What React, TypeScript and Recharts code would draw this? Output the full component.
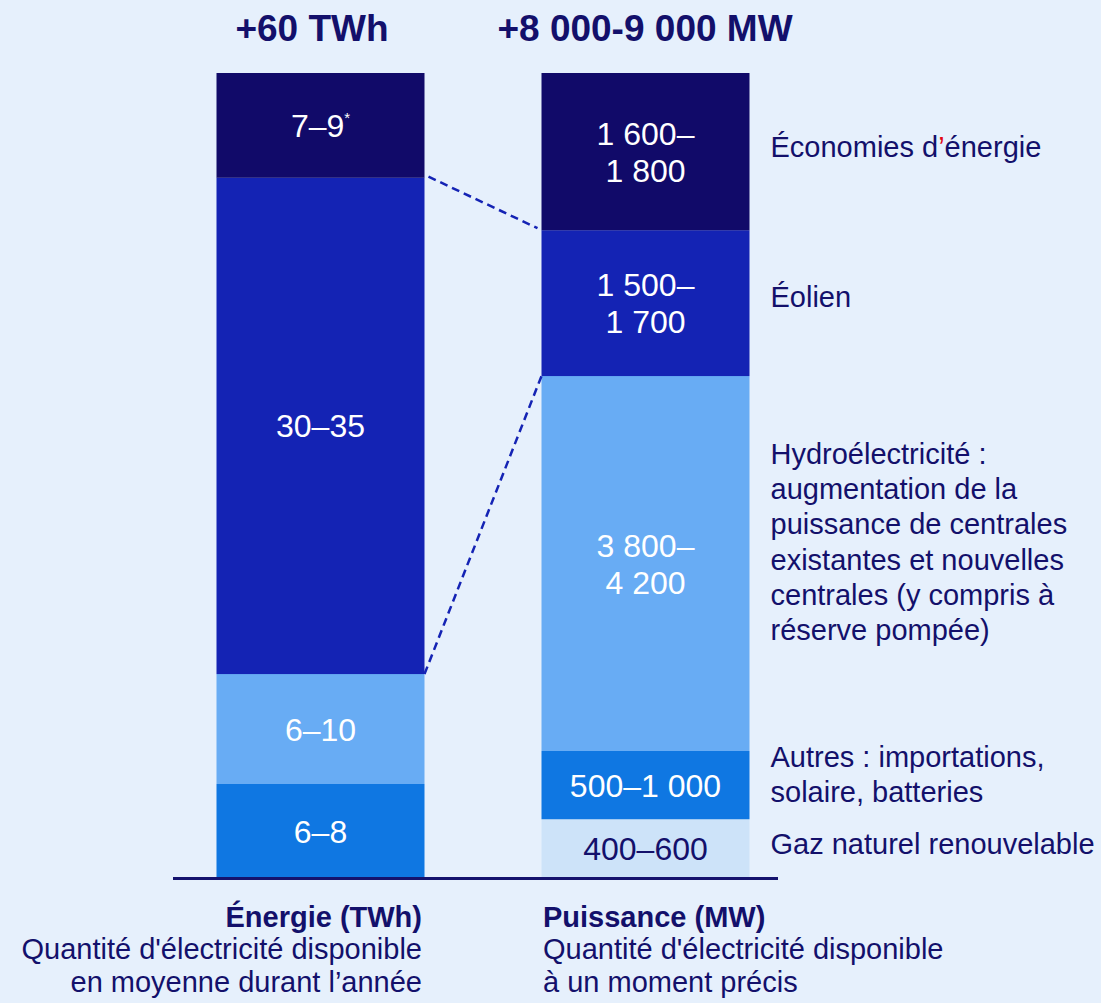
import React from "react";
import { BarChart, Bar, XAxis, YAxis, LabelList } from "recharts";

// values (segment heights), ranges as printed
const categories = ["Énergie (TWh)", "Puissance (MW)"];
const headers = ["+60 TWh", "+8 000-9 000 MW"];
const totals = [60, 8500];
const seriesKeys = ["gaz", "autres", "hydro", "eolien", "economies"];
const energieValues = [0, 7.0, 8.2, 37.0, 7.8];
const puissanceValues = [620, 720, 3960, 1540, 1660];
const energieLabels = ["", "6–8", "6–10", "30–35", "7–9*"];
const puissanceLabels = ["400–600", "500–1 000", "3 800–\n4 200", "1 500–\n1 700", "1 600–\n1 800"];
const seriesNames = [
  "Gaz naturel renouvelable",
  "Autres : importations,\nsolaire, batteries",
  "Hydroélectricité :\naugmentation de la\npuissance de centrales\nexistantes et nouvelles\ncentrales (y compris à\nréserve pompée)",
  "Éolien",
  "Économies d’énergie",
];
const bottomLines = [
  ["Quantité d'électricité disponible", "en moyenne durant l’année"],
  ["Quantité d'électricité disponible", "à un moment précis"],
];

const COLORS = ["#cde3f9", "#0f77e2", "#68acf4", "#1423b4", "#110a69"];
const NAVY = "#13106b";
const BG = "#e6f0fc";
const FONT = "'Liberation Sans', Arial, sans-serif";
const BAR_W = 208;
const NAME_DY = [5.5, -0.8, -11.7, 4, 5.5];
const HEADER_DX = [-8, 0];

const rows = [energieValues, puissanceValues].map((vals, i) => {
  const row: Record<string, any> = { name: categories[i] };
  const labels = i === 0 ? energieLabels : puissanceLabels;
  seriesKeys.forEach((k, j) => {
    row[k] = (vals[j] / totals[i]) * 100;
    row[k + "_label"] = labels[j];
    if (i === 1) row[k + "_name"] = seriesNames[j];
  });
  return row;
});

let leftRoyal: { x: number; y: number; width: number; height: number } | null = null;

function RoyalShape(props: any) {
  const { x, y, width, height, fill, payload } = props;
  const isLeft = payload?.name === categories[0];
  if (isLeft) leftRoyal = { x, y, width, height };
  const l = leftRoyal;
  return (
    <g>
      <rect x={x} y={y} width={width} height={height} fill={fill} />
      {!isLeft && l && (
        <g stroke={COLORS[3]} strokeWidth={2.5} strokeDasharray="8 5">
          <line x1={l.x + l.width + 4} y1={l.y - 1} x2={x - 4} y2={y - 2} />
          <line x1={l.x + l.width} y1={l.y + l.height} x2={x} y2={y + height} />
        </g>
      )}
    </g>
  );
}

function InnerLabel(props: any) {
  const vb = props.viewBox ?? props;
  const value = props.value;
  if (!value) return null;
  const lines = String(value).split("\n");
  const cx = vb.x + vb.width / 2;
  const cy = vb.y + vb.height / 2;
  const first = cy - ((lines.length - 1) * 37) / 2 + 11.5;
  const color = value === puissanceLabels[0] ? NAVY : "#ffffff";
  return (
    <text x={cx} y={first} textAnchor="middle" fill={color} fontSize={32} fontFamily={FONT}>
      {lines.map((ln, i) => {
        const star = ln.endsWith("*");
        return (
          <tspan key={i} x={cx} y={first + i * 37}>
            {star ? ln.slice(0, -1) : ln}
            {star && (
              <tspan fontSize={15} dy={-14}>
                *
              </tspan>
            )}
          </tspan>
        );
      })}
    </text>
  );
}

function makeNameLabel(k: number) {
  return function NameLabel(props: any) {
    const vb = props.viewBox ?? props;
    const value = props.value;
    if (!value) return null;
    const lines = String(value).split("\n");
    const x = vb.x + vb.width + 21;
    const cy = vb.y + vb.height / 2;
    const first = cy - ((lines.length - 1) * 35.3) / 2 + NAME_DY[k];
    return (
      <text x={x} y={first} fill={NAVY} fontSize={29} fontFamily={FONT}>
        {lines.map((ln, i) => {
          const parts = ln.split("’");
          return (
            <tspan key={i} x={x} y={first + i * 35.3}>
              {parts.map((p, j) => (
                <React.Fragment key={j}>
                  {j > 0 && <tspan fill="#e30613">’</tspan>}
                  {p}
                </React.Fragment>
              ))}
            </tspan>
          );
        })}
      </text>
    );
  };
}

function TopTick(props: any) {
  const { x, y, index } = props;
  return (
    <text
      x={x + HEADER_DX[index]}
      y={y - 32}
      textAnchor="middle"
      fill={NAVY}
      fontSize={37}
      fontWeight="bold"
      fontFamily={FONT}
    >
      {headers[index]}
    </text>
  );
}

function BottomTick(props: any) {
  const { x, y, index } = props;
  const left = index === 0;
  const tx = left ? x + BAR_W / 2 - 2 : x - BAR_W / 2 + 2;
  const anchor = left ? "end" : "start";
  return (
    <text x={tx} y={y} textAnchor={anchor} fill={NAVY} fontSize={29} fontFamily={FONT}>
      <tspan x={tx} y={y + 48.5} fontWeight="bold">
        {categories[index]}
      </tspan>
      {bottomLines[index].map((ln, i) => (
        <tspan key={i} x={tx} y={y + 81 + i * 33}>
          {ln}
        </tspan>
      ))}
    </text>
  );
}

export default function App() {
  return (
    <div style={{ position: "absolute", left: 0, top: 0, width: 1101, height: 1003, background: BG, overflow: "hidden" }}>
      <BarChart
        width={1101}
        height={1003}
        data={rows}
        margin={{ top: 0, left: 157.5, right: 293.5, bottom: 0 }}
        barSize={BAR_W}
      >
        <XAxis
          dataKey="name"
          height={125}
          axisLine={false}
          tickLine={false}
          tickSize={0}
          tickMargin={0}
          interval={0}
          tick={<BottomTick />}
        />
        <XAxis
          xAxisId="top"
          orientation="top"
          dataKey="name"
          height={73}
          axisLine={false}
          tickLine={false}
          tickSize={0}
          tickMargin={0}
          interval={0}
          tick={<TopTick />}
        />
        <YAxis hide domain={[0, 100]} />
        {seriesKeys.map((k, j) => (
          <Bar
            key={k}
            dataKey={k}
            stackId="s"
            fill={COLORS[j]}
            isAnimationActive={false}
            shape={k === "eolien" ? (p: any) => <RoyalShape {...p} /> : undefined}
          >
            <LabelList dataKey={k + "_label"} content={<InnerLabel />} />
            <LabelList dataKey={k + "_name"} content={makeNameLabel(j)} />
          </Bar>
        ))}
      </BarChart>
      <div style={{ position: "absolute", left: 173, top: 877, width: 605, height: 3, background: "#15136e" }} />
    </div>
  );
}
